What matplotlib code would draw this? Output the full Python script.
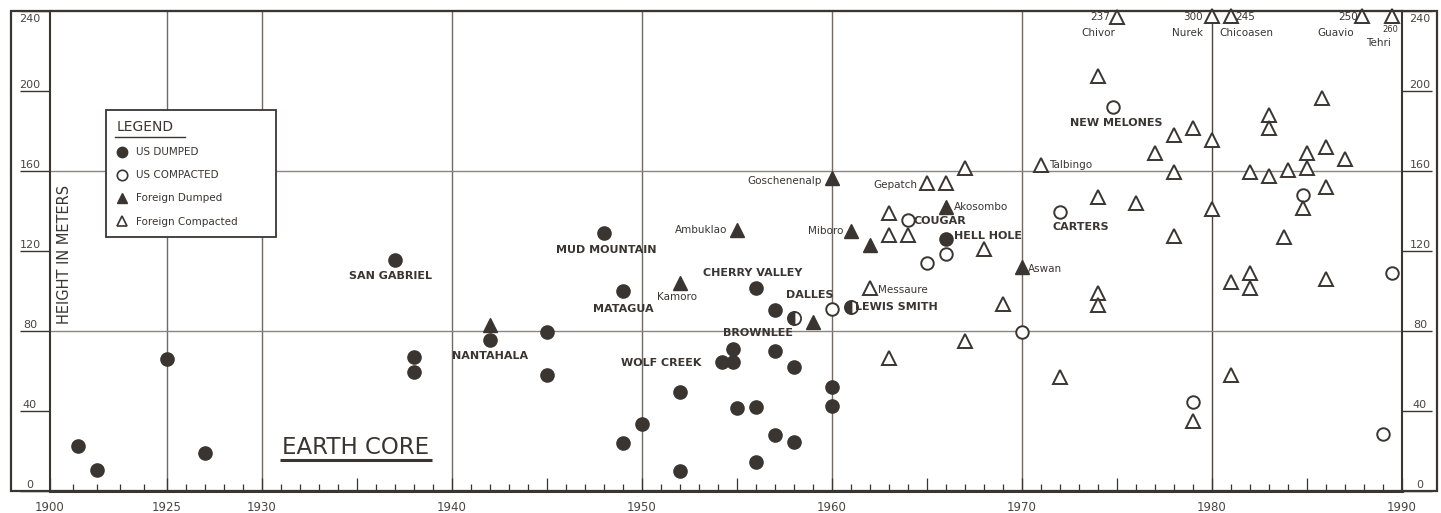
import numpy as np
import matplotlib
matplotlib.use("Agg")
import matplotlib.pyplot as plt
from matplotlib.lines import Line2D
from matplotlib.patches import Rectangle
from matplotlib.ticker import FixedLocator, FixedFormatter

# --- datos (año de construccion, altura en metros) ---
us_dumped_year = [1906, 1910, 1925, 1927, 1937, 1938, 1938, 1942, 1945, 1945,
                  1948, 1949, 1952, 1950, 1949, 1952, 1956, 1957, 1954.8, 1957,
                  1958, 1954.2, 1954.8, 1955, 1956, 1960, 1960, 1957, 1958, 1956,
                  1966]
us_dumped_h = [22.5, 10.5, 66, 19, 115.5, 67, 59.5, 75.5, 79.5, 58,
               129, 100, 49.5, 33.5, 24, 10, 101.5, 90.5, 71, 70,
               62, 64.5, 64.5, 41.5, 42, 52, 42.5, 28, 24.5, 14.5,
               126]

# presas mixtas (medio circulo relleno)
us_mixed_year = [1958, 1961]
us_mixed_h = [86.5, 92]

us_compacted_year = [1960, 1964, 1966, 1965, 1970, 1972, 1974.8, 1984.8, 1989.5, 1979, 1989]
us_compacted_h = [91, 135.5, 118.5, 114, 79.5, 139.5, 192, 148, 109, 44.5, 28.5]

foreign_dumped_year = [1942, 1952, 1955, 1960, 1961, 1962, 1959, 1966, 1970]
foreign_dumped_h = [83, 104, 130.5, 156.5, 130, 123, 84.5, 142, 112]

foreign_compacted_year = [1965, 1966, 1967, 1971, 1963, 1963, 1964, 1962, 1968, 1969,
                          1967, 1963, 1972, 1974, 1978, 1979, 1980, 1977, 1978, 1974,
                          1976, 1980, 1978, 1974, 1974, 1981, 1983, 1983, 1985.8, 1986,
                          1985, 1987, 1982, 1983, 1984, 1985, 1986, 1984.8, 1983.8, 1982,
                          1982, 1981, 1986, 1979]
foreign_compacted_h = [154, 154, 161.5, 163, 139, 128, 128, 101.5, 121, 93.5,
                       75, 66.5, 57, 207.5, 178, 181.5, 175.5, 169, 159.5, 147,
                       144, 141, 127.5, 99, 93, 58, 188, 181.5, 196.5, 172,
                       169, 166, 159.5, 157.5, 160.5, 161.5, 152, 141.5, 127, 109,
                       101.5, 104.5, 106, 35]

# presas mas altas que el limite del grafico
tall_names = ["Chivor", "Nurek", "Chicoasen", "Guavio", "Tehri"]
tall_year = [1975, 1980, 1981, 1987.9, 1989.5]
tall_h = [237, 300, 245, 250, 260]

y_ticks = [0, 40, 80, 120, 160, 200, 240]
x_label_years = [1900, 1925, 1930, 1940, 1950, 1960, 1970, 1980, 1990]
grid_years = [1925, 1930, 1940, 1950, 1960, 1970, 1980]

ink = "#3a3531"
grid_c = "#6f6a65"
W, H = 1441, 513

# eje x comprimido antes de 1925
r = 0.2463
def fwd(x):
    x = np.asarray(x, dtype=float)
    return np.where(x < 1925, 1925 - (1925 - x) * r, x)

def inv(x):
    x = np.asarray(x, dtype=float)
    return np.where(x < 1925, 1925 - (1925 - x) / r, x)

fig = plt.figure(figsize=(W / 100, H / 100), dpi=100)
ax = fig.add_axes([50 / W, 22 / H, 1352 / W, 480 / H])
ax.set_xscale("function", functions=(fwd, inv))
ax.set_xlim(1900, 1990)
ax.set_ylim(0, 240)

# lineas de referencia
for yr in grid_years:
    ax.axvline(yr, color=grid_c if yr != 1980 else "#4a4540", lw=1.0, zorder=1)
for hh in [80, 160]:
    ax.axhline(hh, color="#8a8580", lw=1.0, zorder=1)

# puntos
mk = dict(ls="", zorder=3, clip_on=False)
ax.plot(us_dumped_year, us_dumped_h, marker="o", ms=9.5, color=ink, mec=ink, **mk)
ax.plot(us_mixed_year, us_mixed_h, marker="o", ms=9.5, fillstyle="left", color=ink,
        mfc=ink, mfcalt="white", mec=ink, mew=1.3, **mk)
ax.plot(us_compacted_year, us_compacted_h, marker="o", ms=9, mfc="white", mec=ink, mew=1.4, **mk)
ax.plot(foreign_dumped_year, foreign_dumped_h, marker="^", ms=9.5, color=ink, mec=ink, **mk)
ax.plot(foreign_compacted_year, foreign_compacted_h, marker="^", ms=9.5, mfc="white", mec=ink, mew=1.4, **mk)
ax.plot(tall_year, np.minimum(tall_h, 237.5), marker="^", ms=9.5, mfc="white", mec=ink, mew=1.4, **mk)

# nombres de presas
bold_labels = [
    ("SAN GABRIEL", 1936.74, 107.5, "center"),
    ("NANTAHALA", 1942.0, 67.5, "center"),
    ("MUD MOUNTAIN", 1948.1, 120.5, "center"),
    ("MATAGUA", 1949.0, 91, "center"),
    ("WOLF CREEK", 1951.0, 64, "center"),
    ("CHERRY VALLEY", 1955.85, 109, "center"),
    ("DALLES", 1958.85, 98, "center"),
    ("BROWNLEE", 1956.1, 79, "center"),
    ("LEWIS SMITH", 1961.2, 92, "left"),
    ("COUGAR", 1964.3, 135, "left"),
    ("HELL HOLE", 1966.4, 127.5, "left"),
    ("CARTERS", 1971.6, 132, "left"),
    ("NEW MELONES", 1974.95, 184, "center"),
]
for txt, x, y, ha in bold_labels:
    ax.text(x, y, txt, ha=ha, va="center", fontsize=8, fontweight="bold", color=ink, zorder=4)

small_labels = [
    ("Ambuklao", 1954.5, 130.5, "right"),
    ("Kamoro", 1951.85, 97, "center"),
    ("Goschenenalp", 1959.47, 155, "right"),
    ("Miboro", 1960.58, 130, "right"),
    ("Messaure", 1962.4, 100.5, "left"),
    ("Gepatch", 1964.47, 153, "right"),
    ("Akosombo", 1966.4, 142, "left"),
    ("Aswan", 1970.3, 111, "left"),
    ("Talbingo", 1971.4, 163, "left"),
    ("237", 1974.63, 237, "right"),
    ("Chivor", 1974.0, 229, "center"),
    ("300", 1979.5, 237, "right"),
    ("Nurek", 1978.7, 229, "center"),
    ("245", 1981.2, 237, "left"),
    ("Chicoasen", 1981.8, 229, "center"),
    ("250", 1987.7, 237, "right"),
    ("Guavio", 1986.5, 229, "center"),
    ("Tehri", 1989.4, 224, "right"),
]
for txt, x, y, ha in small_labels:
    ax.text(x, y, txt, ha=ha, va="center", fontsize=7.5, color=ink, zorder=4)
ax.text(1989.4, 230.5, "260", ha="center", va="center", fontsize=6, color=ink, zorder=4)

ax.text(0.011, 0.493, "HEIGHT IN METERS", transform=ax.transAxes, rotation=90,
        ha="center", va="center", fontsize=10.5, color=ink)
ax.text(1934.95, 21.5, "EARTH CORE", ha="center", va="center", fontsize=16.5, color=ink)
ax.plot([1930.95, 1938.95], [15.5, 15.5], color=ink, lw=2.2, solid_capstyle="butt")

# ejes y marcas
for s in ax.spines.values():
    s.set_color(ink)
    s.set_linewidth(1.5)
ax.spines["bottom"].set_linewidth(2.2)

major_x = [1900, 1925] + list(range(1930, 1991, 5))
major_lab = [str(v) if v in x_label_years else "" for v in major_x]
minor_x = [1905, 1910, 1915, 1920] + [v for v in range(1926, 1990) if v % 5 != 0]
ax.xaxis.set_major_locator(FixedLocator(major_x))
ax.xaxis.set_major_formatter(FixedFormatter(major_lab))
ax.xaxis.set_minor_locator(FixedLocator(minor_x))
ax.tick_params(axis="x", which="major", direction="in", length=9.5, width=0.9,
               colors=ink, labelcolor="#4a4540", labelsize=8.5, pad=7)
ax.tick_params(axis="x", which="minor", direction="in", length=5, width=0.9, colors=ink)

ax.set_yticks(y_ticks)
ax.tick_params(axis="y", direction="out", length=21.5, width=1.0, colors=ink,
               left=True, right=True, labelleft=False, labelright=False)
for hh in y_ticks:
    va = "top" if hh == 240 else "bottom"
    yy = hh - 1.5 if hh == 240 else hh + 0.5
    for xf in (-0.0148, 1.0133):
        ax.text(xf, yy, str(hh), transform=ax.get_yaxis_transform(), ha="center", va=va,
                fontsize=8, color="#4a4540", clip_on=False)

# marco exterior
fig.add_artist(Rectangle((11 / W, 22 / H), 1426 / W, 480 / H, fill=False, lw=1.6,
                         ec=ink, transform=fig.transFigure))

# leyenda
handles = [
    Line2D([], [], ls="", marker="o", ms=7.5, color=ink),
    Line2D([], [], ls="", marker="o", ms=7.5, mfc="white", mec=ink, mew=1.2),
    Line2D([], [], ls="", marker="^", ms=7.5, color=ink),
    Line2D([], [], ls="", marker="^", ms=7.5, mfc="white", mec=ink, mew=1.2),
]
labels = ["US DUMPED", "US COMPACTED", "Foreign Dumped", "Foreign Compacted"]
leg = fig.legend(handles, labels, title="LEGEND", loc="upper left",
                 bbox_to_anchor=(106 / W, 1 - 237 / H, 170 / W, 127 / H), mode="expand",
                 frameon=True, fancybox=False, edgecolor=ink, framealpha=1,
                 fontsize=7.5, title_fontsize=10, alignment="left",
                 handlelength=1.0, handletextpad=0.9, labelspacing=1.25, borderpad=1.0,
                 borderaxespad=0)
leg.get_frame().set_linewidth(1.3)
for t in leg.get_texts():
    t.set_color(ink)
leg.get_title().set_color(ink)
fig.add_artist(Line2D([115 / W, 185 / W], [1 - 137 / H] * 2, color=ink, lw=1.0,
                      transform=fig.transFigure, zorder=10))

fig.savefig("out.png", dpi=100, facecolor="white")
